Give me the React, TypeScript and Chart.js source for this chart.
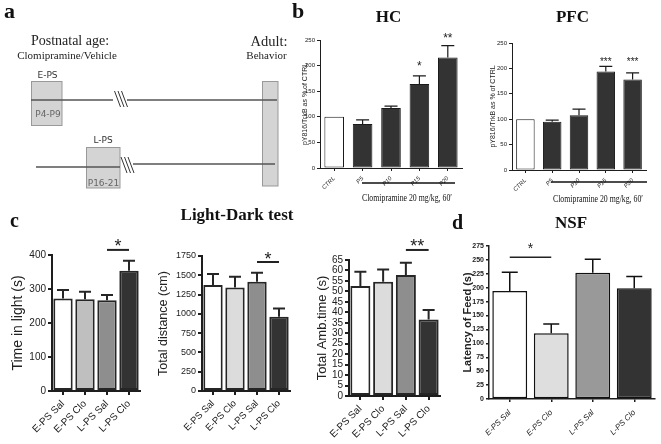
import React, { useEffect, useRef } from "react";
import { Chart, registerables } from "chart.js";

Chart.register(...registerables);

// ---------- Panel b data ----------
const bLabels = ["CTRL", "P5", "P10", "P15", "P20"];
const hcValues = [100, 86, 117, 164, 216];
const hcErrors = [0, 8, 4, 16, 23];
const hcStarText = ["", "", "", "*", "**"];
const hcStarLevel = [0, 0, 0, 205, 260];
const pfcValues = [100, 95, 108, 194, 178];
const pfcErrors = [0, 3, 12, 10, 13];
const pfcStarText = ["", "", "", "***", "***"];
const pfcStarLevel = [0, 0, 0, 218, 218];

// ---------- Panel c / d data ----------
const groups = ["E-PS Sal", "E-PS Clo", "L-PS Sal", "L-PS Clo"];
const timeInLight = [272, 270, 267, 354];
const timeInLightErr = [25, 22, 15, 29];
const totalDistance = [1373, 1343, 1416, 962];
const totalDistanceErr = [143, 138, 117, 108];
const ambTime = [52.6, 54.6, 57.8, 36.6];
const ambTimeErr = [6.8, 5.9, 5.9, 4.5];
const nsfLatency = [194, 118, 227, 199];
const nsfLatencyErr = [34, 17, 24, 21];

// significance brackets: [fromIndex, toIndex, lineLevel, starLevel]
const lightBracket = [2, 3, 415, 438];
const distanceBracket = [2, 3, 1672, 1763];
const ambBracket = [2, 3, 69.8, 73.6];
const nsfBracket = [0, 1, 255, 277];

const SANS = "'Liberation Sans', Arial, sans-serif";
const SERIF = "'Liberation Serif', 'Times New Roman', serif";

type Spec = {
  box: number[];
  plot: number[];
  labels: string[];
  values: number[];
  errors: number[];
  fills: string[];
  stroke: string;
  strokeWidth: number;
  barPct: number;
  yMax: number;
  yStep: number;
  yTitle: string;
  yTitleX: number;
  yTitleSize: number;
  yTitleWeight: string;
  tickSize: number;
  tickWeight: string;
  xSize: number;
  xStyle: string;
  xPad: number;
  axisWidth: number;
  tickLen: number;
  errWidth: number;
  capHalf: number;
  starSize: number;
  stars?: { index: number; text: string; level: number }[];
  bracket?: { from: number; to: number; level: number; starLevel: number; text: string; width: number };
};

function buildConfig(spec: Spec): any {
  const [bl, bt, br, bb] = spec.box;
  const [pl, pt, pr, pb] = spec.plot;
  const titleLH = spec.yTitleSize * 1.2;
  const annot = {
    id: "annot",
    afterDatasetsDraw(chart: any) {
      const ctx = chart.ctx;
      const meta = chart.getDatasetMeta(0);
      const ys = chart.scales.y;
      ctx.save();
      ctx.strokeStyle = spec.stroke;
      ctx.lineWidth = spec.errWidth;
      spec.values.forEach((v, i) => {
        const e = spec.errors[i];
        if (!e) return;
        const x = meta.data[i].x;
        const y0 = ys.getPixelForValue(v);
        const y1 = ys.getPixelForValue(v + e);
        ctx.beginPath();
        ctx.moveTo(x, y0);
        ctx.lineTo(x, y1);
        ctx.moveTo(x - spec.capHalf, y1);
        ctx.lineTo(x + spec.capHalf, y1);
        ctx.stroke();
      });
      ctx.fillStyle = "#222";
      ctx.textAlign = "center";
      ctx.textBaseline = "alphabetic";
      ctx.font = `${spec.starSize}px ${SANS}`;
      (spec.stars || []).forEach((s) => {
        if (!s.text) return;
        const x = meta.data[s.index].x;
        const y = ys.getPixelForValue(s.level) + 0.57 * spec.starSize;
        ctx.fillText(s.text, x, y);
      });
      if (spec.bracket) {
        const b = spec.bracket;
        const x0 = meta.data[b.from].x;
        const x1 = meta.data[b.to].x;
        const yl = ys.getPixelForValue(b.level);
        ctx.lineWidth = b.width;
        ctx.strokeStyle = "#222";
        ctx.beginPath();
        ctx.moveTo(x0, yl);
        ctx.lineTo(x1, yl);
        ctx.stroke();
        const ysr = ys.getPixelForValue(b.starLevel) + 0.57 * spec.starSize;
        ctx.fillText(b.text, (x0 + x1) / 2, ysr);
      }
      ctx.restore();
    },
  };
  const axisColor = "#1e1e1e";
  return {
    type: "bar",
    data: {
      labels: spec.labels,
      datasets: [
        {
          data: spec.values,
          backgroundColor: spec.fills,
          borderColor: spec.stroke,
          borderWidth: spec.strokeWidth,
          borderSkipped: false,
          barPercentage: spec.barPct,
          categoryPercentage: 1,
        },
      ],
    },
    options: {
      responsive: false,
      animation: false,
      events: [],
      layout: {
        autoPadding: false,
        padding: { left: 0, top: pt - bt, right: br - pr, bottom: 0 },
      },
      plugins: { legend: { display: false }, tooltip: { enabled: false }, title: { display: false } },
      scales: {
        x: {
          type: "category",
          offset: true,
          afterFit: (s: any) => {
            s.height = bb - pb;
          },
          grid: {
            display: true,
            drawOnChartArea: false,
            drawTicks: true,
            tickLength: spec.tickLen,
            offset: false,
            color: axisColor,
            lineWidth: spec.axisWidth,
          },
          border: { display: true, color: axisColor, width: spec.axisWidth },
          ticks: {
            autoSkip: false,
            maxRotation: 45,
            minRotation: 45,
            padding: spec.xPad,
            color: "#222",
            font: { family: SANS, size: spec.xSize, style: spec.xStyle },
          },
        },
        y: {
          min: 0,
          max: spec.yMax,
          afterFit: (s: any) => {
            s.width = pl - bl;
          },
          grid: {
            display: true,
            drawOnChartArea: false,
            drawTicks: true,
            tickLength: spec.tickLen,
            color: axisColor,
            lineWidth: spec.axisWidth,
          },
          border: { display: true, color: axisColor, width: spec.axisWidth },
          ticks: {
            stepSize: spec.yStep,
            autoSkip: false,
            padding: 2,
            color: "#222",
            callback: (v: any) => String(v),
            font: { family: SANS, size: spec.tickSize, weight: spec.tickWeight },
          },
          title: {
            display: true,
            text: spec.yTitle,
            color: "#222",
            padding: { top: spec.yTitleX - bl - titleLH / 2, bottom: 0 },
            font: { family: SANS, size: spec.yTitleSize, weight: spec.yTitleWeight },
          },
        },
      },
    },
    plugins: [annot],
  };
}

function BarChart({ spec }: { spec: Spec }) {
  const ref = useRef<HTMLCanvasElement>(null);
  useEffect(() => {
    const chart = new Chart(ref.current as HTMLCanvasElement, buildConfig(spec));
    return () => chart.destroy();
  }, [spec]);
  const [bl, bt, br, bb] = spec.box;
  return (
    <canvas
      ref={ref}
      width={br - bl}
      height={bb - bt}
      style={{ position: "absolute", left: bl, top: bt, width: br - bl, height: bb - bt }}
    />
  );
}

const toStars = (texts: string[], levels: number[]) =>
  texts.map((t, i) => ({ index: i, text: t, level: levels[i] }));

const panelB = {
  labels: bLabels,
  fills: ["#ffffff", "#333333", "#333333", "#333333", "#333333"],
  stroke: "#1a1a1a",
  strokeWidth: 1,
  barPct: 0.69,
  yMax: 250,
  yStep: 50,
  yTitle: "pY816/TrkB as % of CTRL",
  yTitleSize: 7,
  yTitleWeight: "normal",
  tickSize: 6,
  tickWeight: "normal",
  xSize: 6,
  xStyle: "italic",
  xPad: 4,
  axisWidth: 1,
  tickLen: 3,
  errWidth: 1.2,
  capHalf: 6.5,
};

const hcSpec: Spec = {
  ...panelB,
  box: [296, 26, 472, 192],
  plot: [320, 40, 462, 168],
  values: hcValues,
  errors: hcErrors,
  yTitleX: 305,
  starSize: 12,
  stars: toStars(hcStarText, hcStarLevel),
};

const pfcSpec: Spec = {
  ...panelB,
  box: [478, 26, 661, 192],
  plot: [512, 43, 646, 170],
  values: pfcValues,
  errors: pfcErrors,
  yTitleX: 493,
  starSize: 10,
  stars: toStars(pfcStarText, pfcStarLevel),
};

const panelC = {
  labels: groups,
  stroke: "#262626",
  strokeWidth: 2,
  barPct: 0.88,
  yTitleWeight: "normal",
  tickWeight: "normal",
  xStyle: "normal",
  xPad: 3,
  axisWidth: 2,
  tickLen: 4,
  errWidth: 2,
  capHalf: 6,
  starSize: 18,
};

const mkBracket = (b: number[], text: string, width: number) => ({
  from: b[0],
  to: b[1],
  level: b[2],
  starLevel: b[3],
  text,
  width,
});

const lightSpec: Spec = {
  ...panelC,
  box: [0, 228, 146, 444],
  plot: [52, 255, 140, 391],
  values: timeInLight,
  errors: timeInLightErr,
  fills: ["#ffffff", "#bfbfbf", "#8e8e8e", "#333333"],
  yMax: 400,
  yStep: 100,
  yTitle: "Time in light (s)",
  yTitleX: 18,
  yTitleSize: 14,
  tickSize: 10,
  xSize: 10,
  bracket: mkBracket(lightBracket, "*", 2),
};

const distSpec: Spec = {
  ...panelC,
  box: [150, 228, 296, 444],
  plot: [202, 256, 290, 391],
  values: totalDistance,
  errors: totalDistanceErr,
  fills: ["#ffffff", "#dcdcdc", "#8e8e8e", "#333333"],
  yMax: 1750,
  yStep: 250,
  yTitle: "Total distance (cm)",
  yTitleX: 164,
  yTitleSize: 12.5,
  tickSize: 9,
  xSize: 9.5,
  bracket: mkBracket(distanceBracket, "*", 2),
};

const ambSpec: Spec = {
  ...panelC,
  box: [296, 228, 446, 444],
  plot: [349, 260, 440, 396],
  values: ambTime,
  errors: ambTimeErr,
  fills: ["#ffffff", "#dcdcdc", "#8e8e8e", "#333333"],
  yMax: 65,
  yStep: 5,
  yTitle: "Total Amb.time (s)",
  yTitleX: 322,
  yTitleSize: 13,
  tickSize: 10,
  xSize: 10,
  bracket: mkBracket(ambBracket, "**", 2),
};

const nsfSpec: Spec = {
  labels: groups,
  box: [450, 228, 661, 444],
  plot: [489, 246, 655, 399],
  values: nsfLatency,
  errors: nsfLatencyErr,
  fills: ["#ffffff", "#dedede", "#999999", "#333333"],
  stroke: "#111111",
  strokeWidth: 1.5,
  barPct: 0.84,
  yMax: 275,
  yStep: 25,
  yTitle: "Latency of Feed (s)",
  yTitleX: 468,
  yTitleSize: 11,
  yTitleWeight: "bold",
  tickSize: 7,
  tickWeight: "bold",
  xSize: 8,
  xStyle: "italic",
  xPad: 6,
  axisWidth: 1.5,
  tickLen: 3,
  errWidth: 1.5,
  capHalf: 8,
  starSize: 14,
  bracket: mkBracket(nsfBracket, "*", 1.5),
};

function Overlay() {
  const line = "#555";
  const slashes = (x: number, y: number) =>
    [0, 1, 2].map((k) => (
      <line key={`${x}-${k}`} x1={x + k * 3.5} y1={y} x2={x + 6 + k * 3.5} y2={y + 16} stroke="#333" strokeWidth={1} />
    ));
  return (
    <svg
      width={661}
      height={444}
      style={{ position: "absolute", left: 0, top: 0, pointerEvents: "none" }}
    >
      {/* panel letters */}
      <text x={4} y={17.5} fontFamily={SERIF} fontWeight="bold" fontSize={22} fill="#111">a</text>
      <text x={292} y={18} fontFamily={SERIF} fontWeight="bold" fontSize={22} fill="#111">b</text>
      <text x={10} y={227} fontFamily={SERIF} fontWeight="bold" fontSize={20} fill="#111">c</text>
      <text x={452} y={229} fontFamily={SERIF} fontWeight="bold" fontSize={20} fill="#111">d</text>

      {/* titles */}
      <text x={388.5} y={22} textAnchor="middle" fontFamily={SERIF} fontWeight="bold" fontSize={17} fill="#111">HC</text>
      <text x={572.5} y={22} textAnchor="middle" fontFamily={SERIF} fontWeight="bold" fontSize={17} fill="#111">PFC</text>
      <text x={237} y={220} textAnchor="middle" fontFamily={SERIF} fontWeight="bold" fontSize={17} fill="#111">Light-Dark test</text>
      <text x={571} y={228} textAnchor="middle" fontFamily={SERIF} fontWeight="bold" fontSize={17} fill="#111">NSF</text>

      {/* panel b treatment brackets */}
      <line x1={362} y1={183} x2={455} y2={183} stroke="#111" strokeWidth={1.3} />
      <text x={407} y={201} textAnchor="middle" fontFamily={SERIF} fontSize={10} fill="#111" textLength={90} lengthAdjust="spacingAndGlyphs">Clomipramine 20 mg/kg, 60′</text>
      <line x1={551} y1={182} x2={647} y2={182} stroke="#111" strokeWidth={1.3} />
      <text x={598} y={202} textAnchor="middle" fontFamily={SERIF} fontSize={10} fill="#111" textLength={90} lengthAdjust="spacingAndGlyphs">Clomipramine 20 mg/kg, 60′</text>

      {/* panel a timeline */}
      <text x={70} y={45} textAnchor="middle" fontFamily={SERIF} fontSize={14} fill="#222">Postnatal age:</text>
      <text x={67} y={59} textAnchor="middle" fontFamily={SERIF} fontSize={11} fill="#222">Clomipramine/Vehicle</text>
      <text x={269} y={46} textAnchor="middle" fontFamily={SERIF} fontSize={14.5} fill="#222">Adult:</text>
      <text x={266.5} y={58.5} textAnchor="middle" fontFamily={SERIF} fontSize={11} fill="#222">Behavior</text>

      <rect x={262.5} y={81.5} width={15.5} height={104.5} fill="#d4d4d4" stroke="#999" strokeWidth={1} />
      <rect x={31.5} y={81.5} width={30.5} height={44} fill="#d4d4d4" stroke="#999" strokeWidth={1} />
      <rect x={86.5} y={147.5} width={33.5} height={40.5} fill="#d4d4d4" stroke="#999" strokeWidth={1} />

      <text x={47.5} y={78} textAnchor="middle" fontFamily="'DejaVu Sans', sans-serif" fontSize={9} fill="#333">E-PS</text>
      <text x={48} y={117} textAnchor="middle" fontFamily="'DejaVu Sans', sans-serif" fontSize={9} fill="#666">P4-P9</text>
      <text x={103} y={143} textAnchor="middle" fontFamily="'DejaVu Sans', sans-serif" fontSize={9} fill="#333">L-PS</text>
      <text x={103.5} y={186} textAnchor="middle" fontFamily="'DejaVu Sans', sans-serif" fontSize={9} fill="#666">P16-21</text>

      <line x1={31} y1={100} x2={113} y2={100} stroke={line} strokeWidth={1.5} />
      <line x1={127} y1={100} x2={277} y2={100} stroke={line} strokeWidth={1.5} />
      {slashes(114.5, 91)}
      <line x1={36} y1={167} x2={120} y2={167} stroke={line} strokeWidth={1.5} />
      <line x1={133} y1={164} x2={275} y2={164} stroke={line} strokeWidth={1.5} />
      {slashes(121, 157)}
    </svg>
  );
}

export default function App() {
  return (
    <div style={{ position: "absolute", left: 0, top: 0, width: 661, height: 444, background: "#fff", overflow: "hidden" }}>
      <BarChart spec={hcSpec} />
      <BarChart spec={pfcSpec} />
      <BarChart spec={lightSpec} />
      <BarChart spec={distSpec} />
      <BarChart spec={ambSpec} />
      <BarChart spec={nsfSpec} />
      <Overlay />
    </div>
  );
}
